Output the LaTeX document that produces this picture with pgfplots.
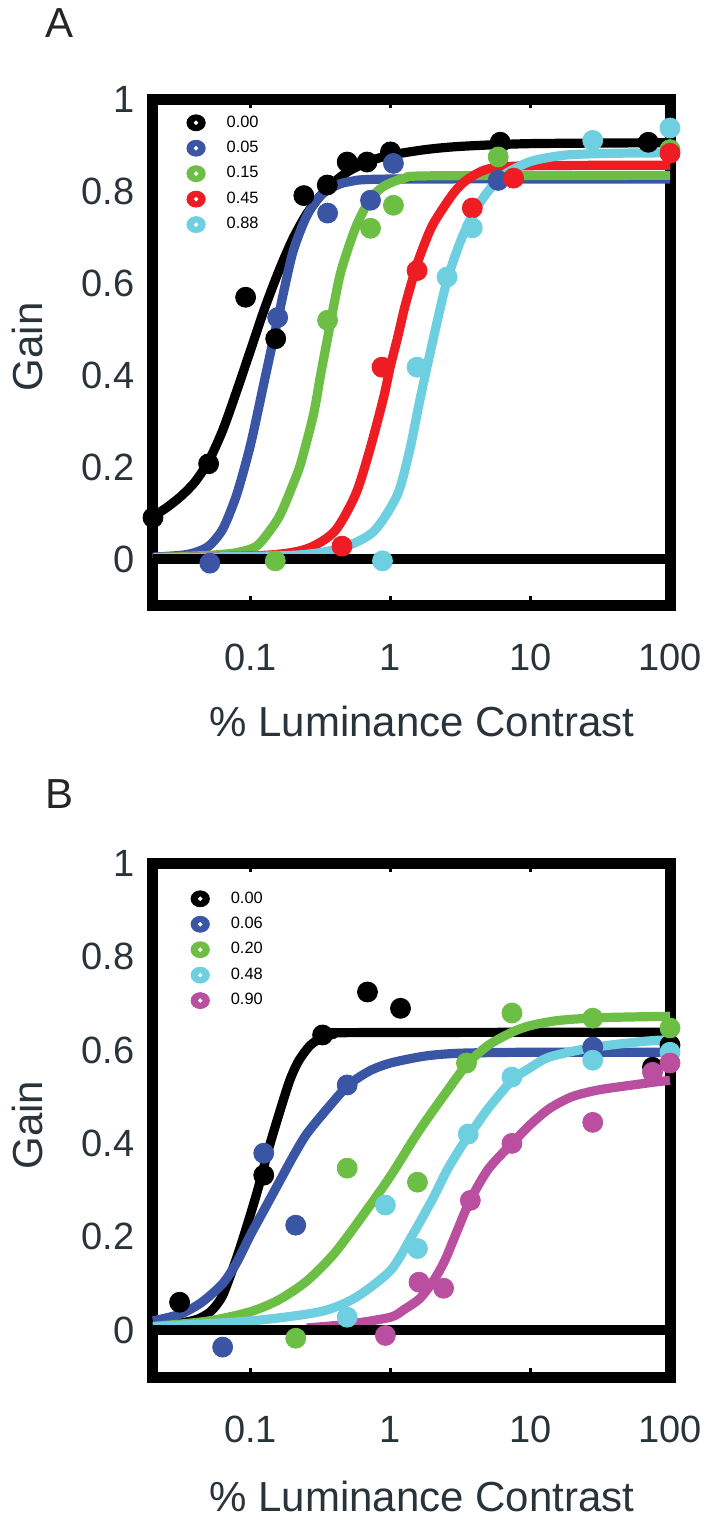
\documentclass[border=0pt]{standalone}
\usepackage{fontspec}
\setmainfont{Liberation Sans}
\usepackage{pgfplots}
\pgfplotsset{compat=1.18}
\definecolor{slate}{RGB}{40,52,58}
\definecolor{cBlue}{RGB}{59,85,165}
\definecolor{cGreen}{RGB}{108,190,69}
\definecolor{cRed}{RGB}{238,29,35}
\definecolor{cCyan}{RGB}{109,207,224}
\definecolor{cMag}{RGB}{186,79,160}
\pgfplotsset{
  ringmark/.style={only marks, mark=*, mark size=5pt, color=#1,
    legend image code/.code={\fill[#1] (0pt,0pt) ellipse [x radius=4.6pt, y radius=4pt];
      \fill[white] (0pt,0pt) circle [radius=0.9pt];}},
  fitcurve/.style={color=#1, line width=4.6pt, mark=none, smooth, tension=0.45, line join=round, forget plot},
}
\begin{document}
\begin{tikzpicture}
\path[use as bounding box] (0pt,0pt) rectangle (357pt,-760.5pt);
\node[font=\fontsize{21pt}{21pt}\selectfont, text=black!85, inner sep=0pt] at (30pt,-11.5pt) {A};
\node[font=\fontsize{21pt}{21pt}\selectfont, text=black!85, inner sep=0pt] at (30pt,-397pt) {B};

% ---------------- Panel A ----------------
\begin{axis}[at={(76.5pt,-302.5pt)}, anchor=south west,
    scale only axis, width=258.5pt, height=253pt, clip=false,
    xmode=log, xmin=0.02, xmax=100, ymin=-0.1, ymax=1,
    axis line style={line width=5.5pt, black},
    xtick={0.1,1,10,100}, xticklabels={0.1,1,10,100},
    ytick={0,0.2,0.4,0.6,0.8,1}, yticklabels={0,0.2,0.4,0.6,0.8,1},
    xminorticks=false, yminorticks=false,
    tick align=inside, major tick length=4.5pt,
    xtick style={line width=1.6pt, black},
    ytick style={draw=none},
    xticklabel style={font=\fontsize{19pt}{19pt}\selectfont, text=slate, anchor=center, inner sep=0pt, yshift=-26pt},
    yticklabel style={font=\fontsize{19pt}{19pt}\selectfont, text=slate, anchor=east, inner sep=0pt, xshift=-9pt},
    xlabel={\% Luminance Contrast},
    ylabel={Gain},
    ylabel style={font=\fontsize{21pt}{21pt}\selectfont, text=slate, at={(axis description cs:-0.242,0.51)}, anchor=center},
    xlabel style={font=\fontsize{21pt}{21pt}\selectfont, text=slate, at={(axis description cs:0.52,-0.231)}, anchor=center},
    legend cell align=left,
    legend style={draw=none, fill=none, inner sep=0pt,
      at={(axis description cs:0.064,0.976)}, anchor=north west,
      font=\fontsize{8.2pt}{9pt}\selectfont, row sep=1.5pt, column sep=8.5pt},
]
\addplot[fitcurve=black] coordinates {(0.02,0.092) (0.0251,0.112) (0.0316,0.136) (0.0398,0.167) (0.0501,0.213) (0.0631,0.28) (0.0794,0.365) (0.1,0.455) (0.1259,0.545) (0.1585,0.625) (0.1995,0.695) (0.2512,0.75) (0.3162,0.79) (0.3981,0.82) (0.5012,0.843) (0.7079,0.865) (1,0.878) (1.778,0.89) (3.162,0.897) (10,0.903) (100,0.905)};
\addplot[ringmark=black] coordinates {(0.02,0.09) (0.05,0.207) (0.092,0.569) (0.151,0.479) (0.24,0.79) (0.353,0.813) (0.49,0.863) (0.68,0.863) (1.0,0.885) (6.1,0.906) (70,0.906)};
\addlegendentry{0.00}
\addplot[fitcurve=cBlue] coordinates {(0.02,0.004) (0.0316,0.008) (0.0398,0.014) (0.0501,0.028) (0.0631,0.065) (0.0794,0.14) (0.1,0.25) (0.1259,0.39) (0.1585,0.53) (0.1995,0.665) (0.2512,0.745) (0.3162,0.79) (0.3981,0.81) (0.5012,0.82) (1,0.826) (100,0.826)};
\addplot[ringmark=cBlue] coordinates {(0.051,-0.009) (0.156,0.525) (0.355,0.752) (0.72,0.78) (1.05,0.86) (5.9,0.823)};
\addlegendentry{0.05}
\addplot[fitcurve=cGreen] coordinates {(0.02,0.003) (0.0501,0.008) (0.0794,0.014) (0.1122,0.03) (0.1585,0.09) (0.1995,0.16) (0.2291,0.21) (0.2818,0.315) (0.3162,0.40) (0.3548,0.48) (0.3981,0.56) (0.4467,0.63) (0.5623,0.72) (0.7079,0.78) (0.8913,0.81) (1.259,0.828) (1.995,0.833) (100,0.834)};
\addplot[ringmark=cGreen] coordinates {(0.15,-0.004) (0.355,0.519) (0.72,0.719) (1.05,0.769) (5.9,0.874) (100,0.89)};
\addlegendentry{0.15}
\addplot[fitcurve=cRed] coordinates {(0.02,0.003) (0.1259,0.008) (0.2512,0.022) (0.3981,0.06) (0.5623,0.14) (0.7079,0.235) (0.8913,0.35) (1,0.42) (1.122,0.48) (1.259,0.545) (1.413,0.60) (1.585,0.65) (1.995,0.725) (2.818,0.795) (3.548,0.825) (5.012,0.848) (10,0.855) (100,0.856)};
\addplot[ringmark=cRed] coordinates {(0.45,0.028) (0.87,0.417) (1.55,0.627) (3.85,0.763) (7.6,0.828) (100,0.882)};
\addlegendentry{0.45}
\addplot[fitcurve=cCyan] coordinates {(0.02,0.003) (0.1995,0.008) (0.4467,0.024) (0.7586,0.06) (1.122,0.14) (1.38,0.24) (1.622,0.345) (1.995,0.47) (2.512,0.60) (3.162,0.69) (3.981,0.755) (5.012,0.80) (6.31,0.833) (10,0.864) (17.78,0.878) (39.81,0.882) (100,0.883)};
\addplot[ringmark=cCyan] coordinates {(0.877,-0.004) (1.55,0.417) (2.54,0.613) (3.85,0.72) (28,0.91) (100,0.937)};
\addlegendentry{0.88}
\addplot[black, line width=5pt, forget plot] coordinates {(0.02,0) (100,0)};
\end{axis}

% ---------------- Panel B ----------------
\begin{axis}[at={(76.5pt,-688.5pt)}, anchor=south west,
    scale only axis, width=258.5pt, height=257pt, clip=false,
    xmode=log, xmin=0.02, xmax=100, ymin=-0.1, ymax=1,
    axis line style={line width=5.5pt, black},
    xtick={0.1,1,10,100}, xticklabels={0.1,1,10,100},
    ytick={0,0.2,0.4,0.6,0.8,1}, yticklabels={0,0.2,0.4,0.6,0.8,1},
    xminorticks=false, yminorticks=false,
    tick align=inside, major tick length=4.5pt,
    xtick style={line width=1.6pt, black},
    ytick style={draw=none},
    xticklabel style={font=\fontsize{19pt}{19pt}\selectfont, text=slate, anchor=center, inner sep=0pt, yshift=-26pt},
    yticklabel style={font=\fontsize{19pt}{19pt}\selectfont, text=slate, anchor=east, inner sep=0pt, xshift=-9pt},
    xlabel={\% Luminance Contrast},
    ylabel={Gain},
    ylabel style={font=\fontsize{21pt}{21pt}\selectfont, text=slate, at={(axis description cs:-0.242,0.49)}, anchor=center},
    xlabel style={font=\fontsize{21pt}{21pt}\selectfont, text=slate, at={(axis description cs:0.52,-0.233)}, anchor=center},
    legend cell align=left,
    legend style={draw=none, fill=none, inner sep=0pt,
      at={(axis description cs:0.072,0.953)}, anchor=north west,
      font=\fontsize{8.2pt}{9pt}\selectfont, row sep=1.5pt, column sep=8.5pt},
]
\addplot[fitcurve=black] coordinates {(0.02,0.012) (0.0316,0.016) (0.0398,0.022) (0.0447,0.028) (0.0525,0.042) (0.0631,0.075) (0.0794,0.155) (0.0955,0.23) (0.1122,0.30) (0.1349,0.39) (0.1622,0.47) (0.1905,0.535) (0.2188,0.575) (0.263,0.608) (0.3162,0.625) (0.3981,0.634) (0.5012,0.637) (100,0.638)};
\addplot[ringmark=black] coordinates {(0.031,0.06) (0.124,0.332) (0.327,0.632) (0.685,0.724) (1.18,0.689) (75,0.563) (100,0.61)};
\addlegendentry{0.00}
\addplot[fitcurve=cBlue] coordinates {(0.02,0.02) (0.0316,0.035) (0.0447,0.06) (0.0631,0.10) (0.0794,0.145) (0.1,0.205) (0.1259,0.26) (0.1585,0.315) (0.1995,0.37) (0.2512,0.42) (0.3548,0.475) (0.5012,0.525) (0.7079,0.555) (1,0.572) (1.778,0.587) (3.162,0.593) (10,0.595) (100,0.595)};
\addplot[ringmark=cBlue] coordinates {(0.063,-0.036) (0.124,0.379) (0.21,0.225) (0.49,0.525) (28,0.606)};
\addlegendentry{0.06}
\addplot[fitcurve=cGreen] coordinates {(0.02,0.008) (0.0501,0.02) (0.1,0.04) (0.1585,0.065) (0.2512,0.105) (0.3981,0.165) (0.631,0.245) (1,0.33) (1.585,0.425) (2.512,0.51) (3.548,0.57) (5.012,0.61) (7.413,0.638) (10,0.652) (15.85,0.663) (31.62,0.669) (100,0.672)};
\addplot[ringmark=cGreen] coordinates {(0.21,-0.017) (0.49,0.347) (1.56,0.317) (3.5,0.572) (7.4,0.679) (28,0.668) (100,0.647)};
\addlegendentry{0.20}
\addplot[fitcurve=cCyan] coordinates {(0.02,0.008) (0.1,0.02) (0.3162,0.04) (0.5623,0.07) (1,0.128) (1.413,0.20) (1.995,0.28) (2.512,0.34) (3.162,0.39) (3.715,0.42) (5.012,0.475) (7.413,0.535) (10,0.562) (13.8,0.585) (27.54,0.605) (63.1,0.618) (100,0.622)};
\addplot[ringmark=cCyan] coordinates {(0.49,0.028) (0.92,0.268) (1.56,0.175) (3.6,0.42) (7.4,0.542) (28,0.578) (100,0.595)};
\addlegendentry{0.48}
\addplot[fitcurve=cMag] coordinates {(0.2512,0.005) (0.5012,0.013) (1,0.028) (1.259,0.045) (1.622,0.068) (2.042,0.107) (2.455,0.15) (3.02,0.215) (3.715,0.278) (5.012,0.345) (7.413,0.40) (10,0.44) (13.8,0.475) (19.95,0.50) (31.62,0.515) (72.44,0.53) (100,0.535)};
\addplot[ringmark=cMag] coordinates {(0.92,-0.011) (1.6,0.103) (2.4,0.09) (3.73,0.278) (7.4,0.40) (28,0.445) (75,0.552) (100,0.572)};
\addlegendentry{0.90}
\addplot[black, line width=5pt, forget plot] coordinates {(0.02,0) (100,0)};
\end{axis}
\end{tikzpicture}
\end{document}
